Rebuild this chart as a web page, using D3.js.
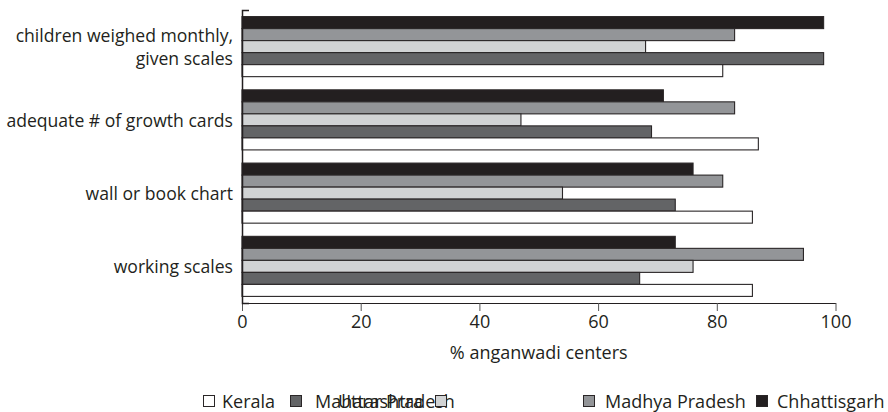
<!DOCTYPE html>
<html>
<head>
<meta charset="utf-8">
<script src="https://cdn.jsdelivr.net/npm/d3@7"></script>
<style>
  html, body { margin: 0; padding: 0; background: #fff; }
  svg { display: block; }
  text { font-family: "Open Sans", "Noto Sans", sans-serif; fill: #231f20; }
</style>
</head>
<body>
<svg id="chart" width="888" height="412"></svg>
<script>
// ---- data ----
const categories = ["children weighed monthly,\ngiven scales", "adequate # of growth cards", "wall or book chart", "working scales"];
const seriesNames = ["Kerala", "Maharashtra", "Uttar Pradesh", "Madhya Pradesh", "Chhattisgarh"];
const kerala        = [81, 87, 86, 86];
const maharashtra   = [98, 69, 73, 67];
const uttarPradesh  = [68, 47, 54, 76];
const madhyaPradesh = [83, 83, 81, 94.6];
const chhattisgarh  = [98, 71, 76, 73];
const xTicks = [0, 20, 40, 60, 80, 100];
const xTitle = "% anganwadi centers";

// ---- styling (not data) ----
const colors = { "Kerala": "#ffffff", "Maharashtra": "#636466", "Uttar Pradesh": "#d1d3d4", "Madhya Pradesh": "#939598", "Chhattisgarh": "#231f20" };
const valuesBySeries = { "Kerala": kerala, "Maharashtra": maharashtra, "Uttar Pradesh": uttarPradesh, "Madhya Pradesh": madhyaPradesh, "Chhattisgarh": chhattisgarh };
// legend layout (box x, text x) as drawn in the original (overlap reproduced)
const legendLayout = [[203, 222], [290, 315], [435, 338], [583, 605], [756, 777]];
const fs = 18;
const labelFs = 17.6;

const svg = d3.select("#chart");
const plotLeft = 242, plotRight = 835.5, plotTop = 10, plotBottom = 303;

const x = d3.scaleLinear().domain([0, 100]).range([plotLeft, plotRight]);
const y = d3.scaleBand().domain(categories).range([plotTop, plotBottom]).paddingInner(0.18).paddingOuter(0.09);
const order = seriesNames.slice().reverse(); // top to bottom: Chhattisgarh ... Kerala
const yInner = d3.scaleBand().domain(order).range([0, y.bandwidth()]);

// bars
const rows = [];
categories.forEach((c, i) => order.forEach(s => rows.push({ cat: c, series: s, value: valuesBySeries[s][i] })));
svg.append("g").selectAll("rect").data(rows).join("rect")
  .attr("x", x(0))
  .attr("y", d => y(d.cat) + yInner(d.series))
  .attr("width", d => x(d.value) - x(0))
  .attr("height", yInner.bandwidth())
  .attr("fill", d => colors[d.series])
  .attr("stroke", "#2a2627")
  .attr("stroke-width", 1.1);

// x axis
const xAxis = svg.append("g").attr("transform", `translate(0,${plotBottom})`)
  .call(d3.axisBottom(x).tickValues(xTicks).tickSize(8).tickSizeOuter(0).tickPadding(4));
xAxis.select(".domain").attr("stroke", "#231f20").attr("stroke-width", 1.1);
xAxis.selectAll(".tick line").attr("stroke", "#555").attr("stroke-width", 1);
xAxis.selectAll(".tick text").attr("font-size", fs).attr("fill", "#231f20").style("font-family", '"Open Sans", sans-serif');

// y axis (domain line with top tick pointing right)
const yAxis = svg.append("g").attr("transform", `translate(${plotLeft},0)`)
  .call(d3.axisRight(y).tickValues([]).tickSizeOuter(7));
yAxis.select(".domain").attr("stroke", "#231f20").attr("stroke-width", 1.5);

// category labels
const labels = svg.append("g").selectAll("text").data(categories).join("text")
  .attr("text-anchor", "end")
  .attr("font-size", labelFs)
  .attr("x", plotLeft - 9)
  .attr("y", d => y(d) + y.bandwidth() / 2);
labels.each(function(d) {
  const lines = d.split("\n");
  const t = d3.select(this);
  const lh = 23;
  lines.forEach((ln, k) => {
    t.append("tspan").attr("x", plotLeft - 9)
      .attr("dy", k === 0 ? (7 - (lines.length - 1) * lh / 2) : lh)
      .text(ln);
  });
});

// x title
svg.append("text").attr("x", (plotLeft + plotRight) / 2).attr("y", 359)
  .attr("text-anchor", "middle").attr("font-size", fs).text(xTitle);

// legend
const lg = svg.append("g");
seriesNames.forEach((s, i) => {
  lg.append("text").attr("x", legendLayout[i][1]).attr("y", 408).attr("font-size", fs).text(s);
});
seriesNames.forEach((s, i) => {
  lg.append("rect").attr("x", legendLayout[i][0] + 0.5).attr("y", 395.5).attr("width", 11).attr("height", 11)
    .attr("fill", colors[s]).attr("stroke", "#2a2627").attr("stroke-width", 1);
});
</script>
</body>
</html>
